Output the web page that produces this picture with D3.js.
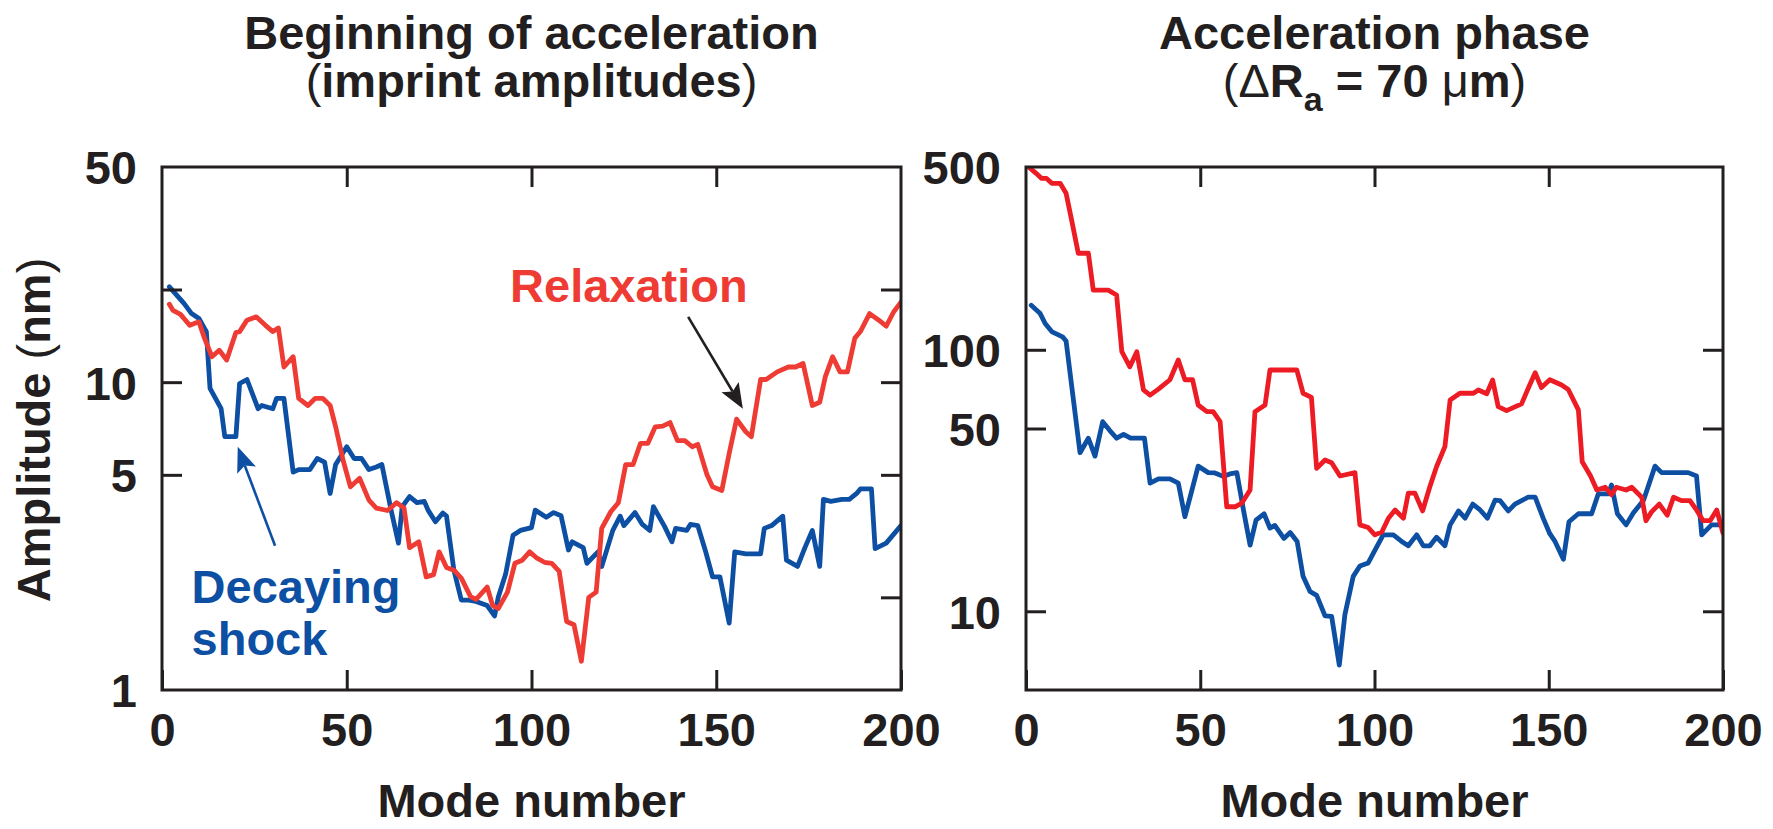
<!DOCTYPE html>
<html>
<head>
<meta charset="utf-8">
<script src="https://cdn.jsdelivr.net/npm/d3@7"></script>
<style>
  html, body { margin: 0; padding: 0; background: #fff; }
  svg { display: block; font-family: "Liberation Sans", Arial, Helvetica, sans-serif; font-weight: bold; }
</style>
</head>
<body>
<svg id="chart" width="1773" height="829"></svg>
<script>
// ---- Beginning of acceleration (imprint amplitudes), nm ----
const shockModesA = [2,6,8,10,12,13,16,17,20,21,23,26,27,30,31,33,35.5,37,40,42,44,45.5,47,50,52,54,56,58,59.5,62,64,65,67,69,71,72,74,76,77,79,81,83,85,88,90,91,93,95,97,100,101,104,106,108,110,111,114,115,118,119,122,124,125,128,130,132,133,136,138,139,142,143,145,147,149,151,153.5,155,158,160,162,163,165,168,169,172,174,176,178,179,181,184,186,188,189,192,193,196,200];
const shockAmpA   = [20.4,18.0,16.7,16.1,14.6,9.55,8.2,6.65,6.65,9.9,10.2,8.2,8.4,8.2,8.86,8.86,5.1,5.2,5.2,5.65,5.5,4.35,5.4,6.17,5.65,5.65,5.2,5.3,5.4,3.84,3.0,3.94,4.25,4.06,4.1,3.84,3.52,3.76,3.67,2.45,1.96,1.96,1.94,1.88,1.74,2.0,2.38,3.18,3.3,3.37,3.84,3.64,3.77,3.68,2.85,3.03,2.9,2.58,2.81,2.52,3.3,3.67,3.42,3.77,3.45,3.3,3.94,3.4,3.03,3.35,3.3,3.45,3.42,2.85,2.33,2.33,1.65,2.81,2.77,2.77,2.77,3.35,3.42,3.67,2.64,2.52,2.9,3.3,2.52,4.16,4.1,4.16,4.16,4.35,4.5,4.5,2.88,3.0,3.42];

const relaxModesA = [2,3,5,7.5,10,11.5,13.5,15.5,17.5,20,21,23,25.5,28,30,31.5,33,35.5,37,39.5,41.5,43.5,45.5,47,49,51,53.5,56,58,61,63.5,65.5,67,69.5,71.5,73.5,75,77,79,81,83.5,85,88,89.5,91,93.5,95.5,97.5,99.5,101.5,103.5,105.5,107.5,109.5,111.5,113.5,115.5,117.5,119,121.5,123.5,125.5,127.5,129.5,131.5,133.5,135.5,137.5,139.5,141.5,143.5,145,147.5,149,151.5,153.5,155.5,158,159.5,162,163.5,166.5,169.5,171.5,173.5,176,178,179.5,181.5,183.5,185.5,187.5,189,191.5,194,196,198,200];
const relaxAmpA   = [17.9,17.1,16.6,15.3,15.7,13.9,12.1,12.7,11.8,14.5,14.6,15.9,16.3,15.3,14.6,15.0,11.2,12.1,8.86,8.4,8.86,8.86,8.4,7.16,5.58,4.57,4.87,4.14,3.9,3.83,4.06,3.9,2.9,3.03,2.33,2.37,2.81,2.5,2.45,2.31,2.01,1.97,2.16,1.88,1.84,2.08,2.58,2.64,2.81,2.68,2.6,2.58,2.43,1.67,1.63,1.24,2.0,2.08,3.35,3.8,4.06,5.4,5.4,6.33,6.33,7.16,7.2,7.39,6.46,6.46,6.17,6.28,5.0,4.57,4.45,5.87,7.58,6.9,6.65,10.2,10.2,10.8,11.2,11.2,11.5,8.4,8.6,10.4,12.1,10.8,10.8,13.9,14.6,16.7,15.9,15.2,16.9,18.2];

// ---- Acceleration phase (ΔRa = 70 μm) ----
const shockModesB = [1.5,4,5.5,7.5,10.5,11.5,15.5,17.9,19.8,22,24,26,28,30,34,35.6,38,41.3,43.7,45.6,47.5,49.4,52.3,54.2,56.6,58.5,60.5,62.4,64.3,66,68.3,70,71.4,74,75.8,77.8,79.5,81.5,83.4,85.8,87.7,89.9,91.5,93.9,95.8,98.2,100.1,102.5,105.4,107.8,109.7,112.1,114,115.9,117.8,120.2,121.7,124.1,126,128.2,130.3,132.4,134.6,136,138.4,140.3,142.2,144.1,146.1,148.4,150.3,151.8,154.2,155.8,158.5,162.3,164.2,167.1,168,169.7,172.2,174.3,177.2,180.5,182.4,190,192.4,193.9,196.7,199.6];
const shockAmpB   = [148,138,126,117,112,108,40.4,45.9,39.2,53.1,49.2,45.9,47.5,45.9,45.9,30.9,32.1,32.1,30.9,23.0,28.7,35.9,33.9,33.8,32.8,33.5,33.9,24.4,17.9,22.3,23.6,20.8,21.3,19.0,20.0,18.5,13.6,11.9,11.5,9.6,9.57,6.23,9.7,13.6,14.9,15.3,17.1,19.6,19.6,18.5,17.8,19.6,17.8,17.8,19.2,17.8,21.4,24.2,22.7,25.7,24.4,22.7,26.6,26.5,24.2,25.7,26.5,27.3,27.3,22.7,19.8,18.5,15.8,22.0,23.6,23.6,28.1,28.1,30.4,23.6,21.4,23.8,26.6,35.9,33.9,33.9,32.9,19.6,21.4,21.4];

const relaxModesB = [1,2.9,4.5,5.9,7.4,9.8,11.5,13.1,15,17.9,19.3,23.6,26,27.5,29.8,31.8,33.7,35.6,38,41.3,43.7,45.6,47.8,49.4,51.9,53.7,55.7,57.6,60,61.9,64.3,65.7,68.6,70,77.7,79.5,81.9,83.4,85.8,87.7,90.1,94.4,95.8,98.2,100.1,102.1,104,105.9,108.3,109.7,111.6,113.8,115.9,117.8,120.2,121.7,124.5,128.4,129.8,132.2,133.9,135.5,137.9,142.2,144.1,146.1,147.9,150.3,153.7,155.6,158.5,159.6,162,163.8,166.2,168,169.4,172.2,173.8,176.7,177.9,179.5,181.7,184,185.8,188.1,190.5,192.4,194.3,196.3,198.2,200];
const relaxAmpB   = [497,473,452,452,433,433,397,313,234,234,169,169,162,98.3,86.1,98.3,70.2,67.1,70.7,76.8,91.4,76.8,76.8,61.5,58,58,53.1,25.1,25.1,25.9,29.1,58,61.5,83.7,83.7,68.2,65.8,35.2,37.9,37,32.9,33.9,21.4,20.9,19.6,20.1,22.7,24.4,22.7,28.3,28.3,24.2,30.0,35.7,42.6,64.3,68.2,68.2,70.2,67.9,76.6,60.6,58.5,62.1,71.2,81.7,71.7,76.8,73.3,70.5,58.9,37.3,32.9,29.1,29.8,27.9,29.8,29.1,29.8,27.3,22.2,24.0,25.7,23.3,27.3,26.5,26.5,24.4,22.2,22.2,24.4,19.9];

// ---- axis settings ----
const modeTicks = [0, 50, 100, 150, 200];
const ampLabelsA = [1, 5, 10, 50];
const ampTicksLeftA = [5, 10, 20];
const ampTicksRightA = [2, 5, 10, 20];
const ampLabelsB = [10, 50, 100, 500];
const ampTicksB = [10, 50, 100];

const INK = "#231f20";
const BLUE = "#0c4fa3";
const RED_A = "#ee3c34";
const RED_B = "#ed1c24";
const FONT = 47;

const svg = d3.select("#chart");

function drawPanel(cfg) {
  const g = svg.append("g");
  const x = d3.scaleLinear().domain([0, 200]).range([cfg.left, cfg.right]);
  const y = d3.scaleLog().domain(cfg.yDomain).range([cfg.bottom, cfg.top]);

  const clipId = "clip-" + cfg.id;
  svg.append("defs").append("clipPath").attr("id", clipId)
    .append("rect")
    .attr("x", cfg.left).attr("y", cfg.top)
    .attr("width", cfg.right - cfg.left).attr("height", cfg.bottom - cfg.top);

  const line = d3.line().x(d => x(d[0])).y(d => y(d[1])).curve(d3.curveLinear);

  const lines = g.append("g").attr("clip-path", `url(#${clipId})`);
  cfg.series.forEach(s => {
    lines.append("path")
      .datum(d3.zip(s.modes, s.values))
      .attr("d", line)
      .attr("fill", "none")
      .attr("stroke", s.color)
      .attr("stroke-width", 4.8)
      .attr("stroke-linejoin", "round")
      .attr("stroke-linecap", "round");
  });

  const styleAxis = sel => {
    sel.select(".domain").remove();
    sel.selectAll(".tick line").attr("stroke", INK).attr("stroke-width", 3);
    sel.selectAll(".tick text")
      .attr("fill", INK)
      .attr("font-size", FONT)
      .attr("font-family", '"Liberation Sans", Arial, Helvetica, sans-serif')
      .attr("font-weight", "bold");
  };

  // inward tick marks on all four sides
  g.append("g").attr("transform", `translate(0,${cfg.bottom})`)
    .call(d3.axisBottom(x).tickValues(modeTicks).tickSizeInner(-20).tickSizeOuter(0).tickPadding(23))
    .call(styleAxis);
  g.append("g").attr("transform", `translate(0,${cfg.top})`)
    .call(d3.axisTop(x).tickValues(modeTicks.slice(1, -1)).tickSizeInner(-20).tickSizeOuter(0).tickFormat(""))
    .call(styleAxis);
  g.append("g").attr("transform", `translate(${cfg.left},0)`)
    .call(d3.axisLeft(y).tickValues(cfg.ticksLeft).tickSizeInner(-20).tickSizeOuter(0).tickFormat(""))
    .call(styleAxis);
  g.append("g").attr("transform", `translate(${cfg.right},0)`)
    .call(d3.axisRight(y).tickValues(cfg.ticksRight).tickSizeInner(-20).tickSizeOuter(0).tickFormat(""))
    .call(styleAxis);
  // amplitude labels
  g.append("g").attr("transform", `translate(${cfg.left},0)`)
    .call(d3.axisLeft(y).tickValues(cfg.labels).tickSize(0).tickPadding(25).tickFormat(d3.format("d")))
    .call(styleAxis)
    .selectAll(".tick text").attr("dy", "0.36em");

  // frame
  g.append("rect")
    .attr("x", cfg.left).attr("y", cfg.top)
    .attr("width", cfg.right - cfg.left).attr("height", cfg.bottom - cfg.top)
    .attr("fill", "none").attr("stroke", INK).attr("stroke-width", 3);

  // x-axis title
  g.append("text")
    .attr("x", (cfg.left + cfg.right) / 2).attr("y", 817)
    .attr("text-anchor", "middle").attr("font-size", FONT).attr("fill", INK)
    .text("Mode number");

  return { g, x, y };
}

function arrow(g, x, y, from, to, color) {
  const x0 = x(from[0]), y0 = y(from[1]), x1 = x(to[0]), y1 = y(to[1]);
  const dx = x1 - x0, dy = y1 - y0, len = Math.hypot(dx, dy);
  const ux = dx / len, uy = dy / len, nx = -uy, ny = ux;
  const headLen = 25, half = 10, notch = 5;
  g.append("line")
    .attr("x1", x0).attr("y1", y0)
    .attr("x2", x1 - ux * (headLen - notch)).attr("y2", y1 - uy * (headLen - notch))
    .attr("stroke", color).attr("stroke-width", 2.6);
  const bx = x1 - ux * headLen, by = y1 - uy * headLen;
  const pts = [
    [x1, y1],
    [bx + nx * half, by + ny * half],
    [x1 - ux * (headLen - notch), y1 - uy * (headLen - notch)],
    [bx - nx * half, by - ny * half]
  ];
  g.append("path").attr("d", "M" + pts.map(p => p.join(",")).join("L") + "Z").attr("fill", color);
}

// ---- left panel ----
const A = drawPanel({
  id: "a", left: 162, right: 901, top: 167, bottom: 690,
  yDomain: [1, 50], labels: ampLabelsA,
  ticksLeft: ampTicksLeftA, ticksRight: ampTicksRightA,
  series: [
    { modes: shockModesA, values: shockAmpA, color: BLUE },
    { modes: relaxModesA, values: relaxAmpA, color: RED_A }
  ]
});

// ---- right panel ----
const B = drawPanel({
  id: "b", left: 1026, right: 1723, top: 167, bottom: 690,
  yDomain: [5, 500], labels: ampLabelsB,
  ticksLeft: ampTicksB, ticksRight: ampTicksB,
  series: [
    { modes: shockModesB, values: shockAmpB, color: BLUE },
    { modes: relaxModesB, values: relaxAmpB, color: RED_B }
  ]
});

// annotations (placed in data coordinates)
A.g.append("text")
  .attr("x", A.x(94.2)).attr("y", A.y(18.2))
  .attr("font-size", FONT).attr("fill", RED_A).text("Relaxation");
arrow(A.g, A.x, A.y, [142.4, 16.3], [157.2, 8.2], INK);

const shockLabel = A.g.append("text").attr("font-size", FONT).attr("fill", BLUE);
shockLabel.append("tspan").attr("x", A.x(8)).attr("y", A.y(1.92)).text("Decaying");
shockLabel.append("tspan").attr("x", A.x(8)).attr("y", A.y(1.30)).text("shock");
arrow(A.g, A.x, A.y, [30.6, 2.94], [20.5, 6.17], BLUE);

// panel titles
function title(cx, build1, build2) {
  const t1 = svg.append("text").attr("x", cx).attr("y", 49)
    .attr("text-anchor", "middle").attr("font-size", FONT).attr("fill", INK);
  build1(t1);
  const t2 = svg.append("text").attr("x", cx).attr("y", 97)
    .attr("text-anchor", "middle").attr("font-size", FONT).attr("fill", INK);
  build2(t2);
}

title((162 + 901) / 2,
  t => t.text("Beginning of acceleration"),
  t => {
    t.append("tspan").attr("font-weight", "normal").text("(");
    t.append("tspan").text("imprint amplitudes");
    t.append("tspan").attr("font-weight", "normal").text(")");
  });

title((1026 + 1723) / 2,
  t => t.text("Acceleration phase"),
  t => {
    t.append("tspan").attr("font-weight", "normal").text("(Δ");
    t.append("tspan").text("R");
    t.append("tspan").attr("font-size", 34).attr("dy", 14).text("a");
    t.append("tspan").attr("dy", -14).text(" = 70 ");
    t.append("tspan").attr("font-weight", "normal").text("μ");
    t.append("tspan").text("m");
    t.append("tspan").attr("font-weight", "normal").text(")");
  });

// y-axis title
const yTitle = svg.append("text")
  .attr("transform", "translate(50,430) rotate(-90)")
  .attr("text-anchor", "middle").attr("font-size", FONT).attr("fill", INK);
yTitle.append("tspan").text("Amplitude ");
yTitle.append("tspan").attr("font-weight", "normal").text("(");
yTitle.append("tspan").text("nm");
yTitle.append("tspan").attr("font-weight", "normal").text(")");
</script>
</body>
</html>
